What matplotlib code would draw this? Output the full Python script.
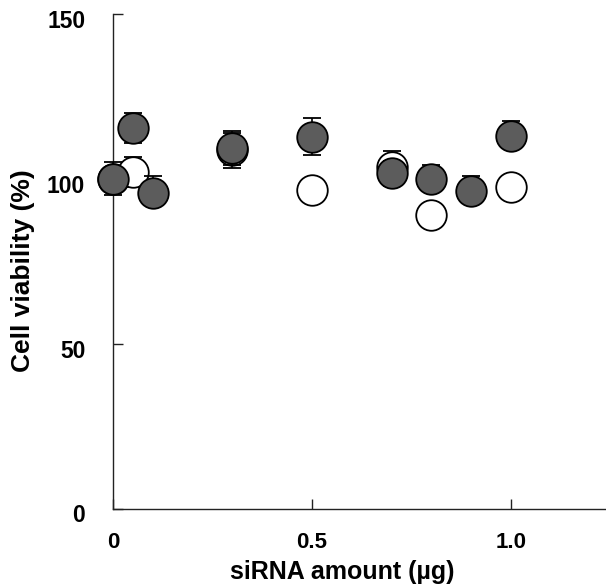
import matplotlib
matplotlib.use('Agg')
import matplotlib.pyplot as plt
import matplotlib.transforms as mtransforms

plt.rcParams['font.family'] = ['Liberation Sans', 'DejaVu Sans']
plt.rcParams['font.weight'] = 'bold'

# filled circles
x_filled = [0, 0.05, 0.1, 0.3, 0.5, 0.7, 0.8, 0.9, 1.0]
y_filled = [100, 115.4, 95.7, 109.3, 112.8, 101.9, 99.8, 96.4, 113]
err_up_filled = [5, 4.5, 5.2, 5.2, 5.7, 3.5, 4.3, 4.5, 4.5]
err_lo_filled = [5, 4.5, 3, 5.2, 5.7, 4.2, 3, 3, 3]

# open circles
x_open = [0, 0.05, 0.3, 0.5, 0.7, 0.8, 1.0]
y_open = [100, 102, 108.7, 96.6, 103.5, 89, 97.4]
err_open = [3, 4.6, 5.3, 3, 5, 3, 3]

x_ticks = [0, 0.5, 1.0]
x_ticklabels = ['0', '0.5', '1.0']
y_ticks = [0, 50, 100, 150]

fig = plt.figure(figsize=(6.06, 5.88), dpi=100)
ax = fig.add_axes([113 / 606, 79.5 / 588, 493 / 606, 494.5 / 588])

ax.errorbar(x_open, y_open, yerr=err_open, fmt='o', ms=22, mfc='white',
            mec='black', mew=1.3, ecolor='black', elinewidth=1.2,
            capsize=6.8, capthick=2, zorder=2, clip_on=False)
ax.errorbar(x_filled, y_filled, yerr=[err_lo_filled, err_up_filled], fmt='o',
            ms=22, mfc='#5c5c5c', mec='black', mew=1.3, ecolor='black',
            elinewidth=1.2, capsize=6.8, capthick=2, zorder=3, clip_on=False)

ax.set_xlim(0, 493 / 398)
ax.set_ylim(0, 150)
ax.set_xticks(x_ticks)
ax.set_xticklabels(x_ticklabels)
ax.set_yticks(y_ticks)

for s in ['top', 'right']:
    ax.spines[s].set_visible(False)
for s in ['left', 'bottom']:
    ax.spines[s].set_linewidth(1.0)
    ax.spines[s].set_color('#222222')

ax.tick_params(axis='both', direction='in', length=7, width=1.0, color='#222222')
ax.tick_params(axis='x', labelsize=16, pad=17)
ax.tick_params(axis='y', labelsize=16.5, pad=20)

offset = mtransforms.ScaledTranslation(0, -5 / 100, fig.dpi_scale_trans)
for lab in ax.get_yticklabels():
    lab.set_transform(lab.get_transform() + offset)

ax.set_xlabel('siRNA amount (\u00b5g)', fontsize=18, fontweight='bold')
ax.set_ylabel('Cell viability (%)', fontsize=19, fontweight='bold')
ax.xaxis.set_label_coords(0.4645, -0.105)
ax.yaxis.set_label_coords(-0.158, 0.481)

fig.savefig('out.png', dpi=100)
